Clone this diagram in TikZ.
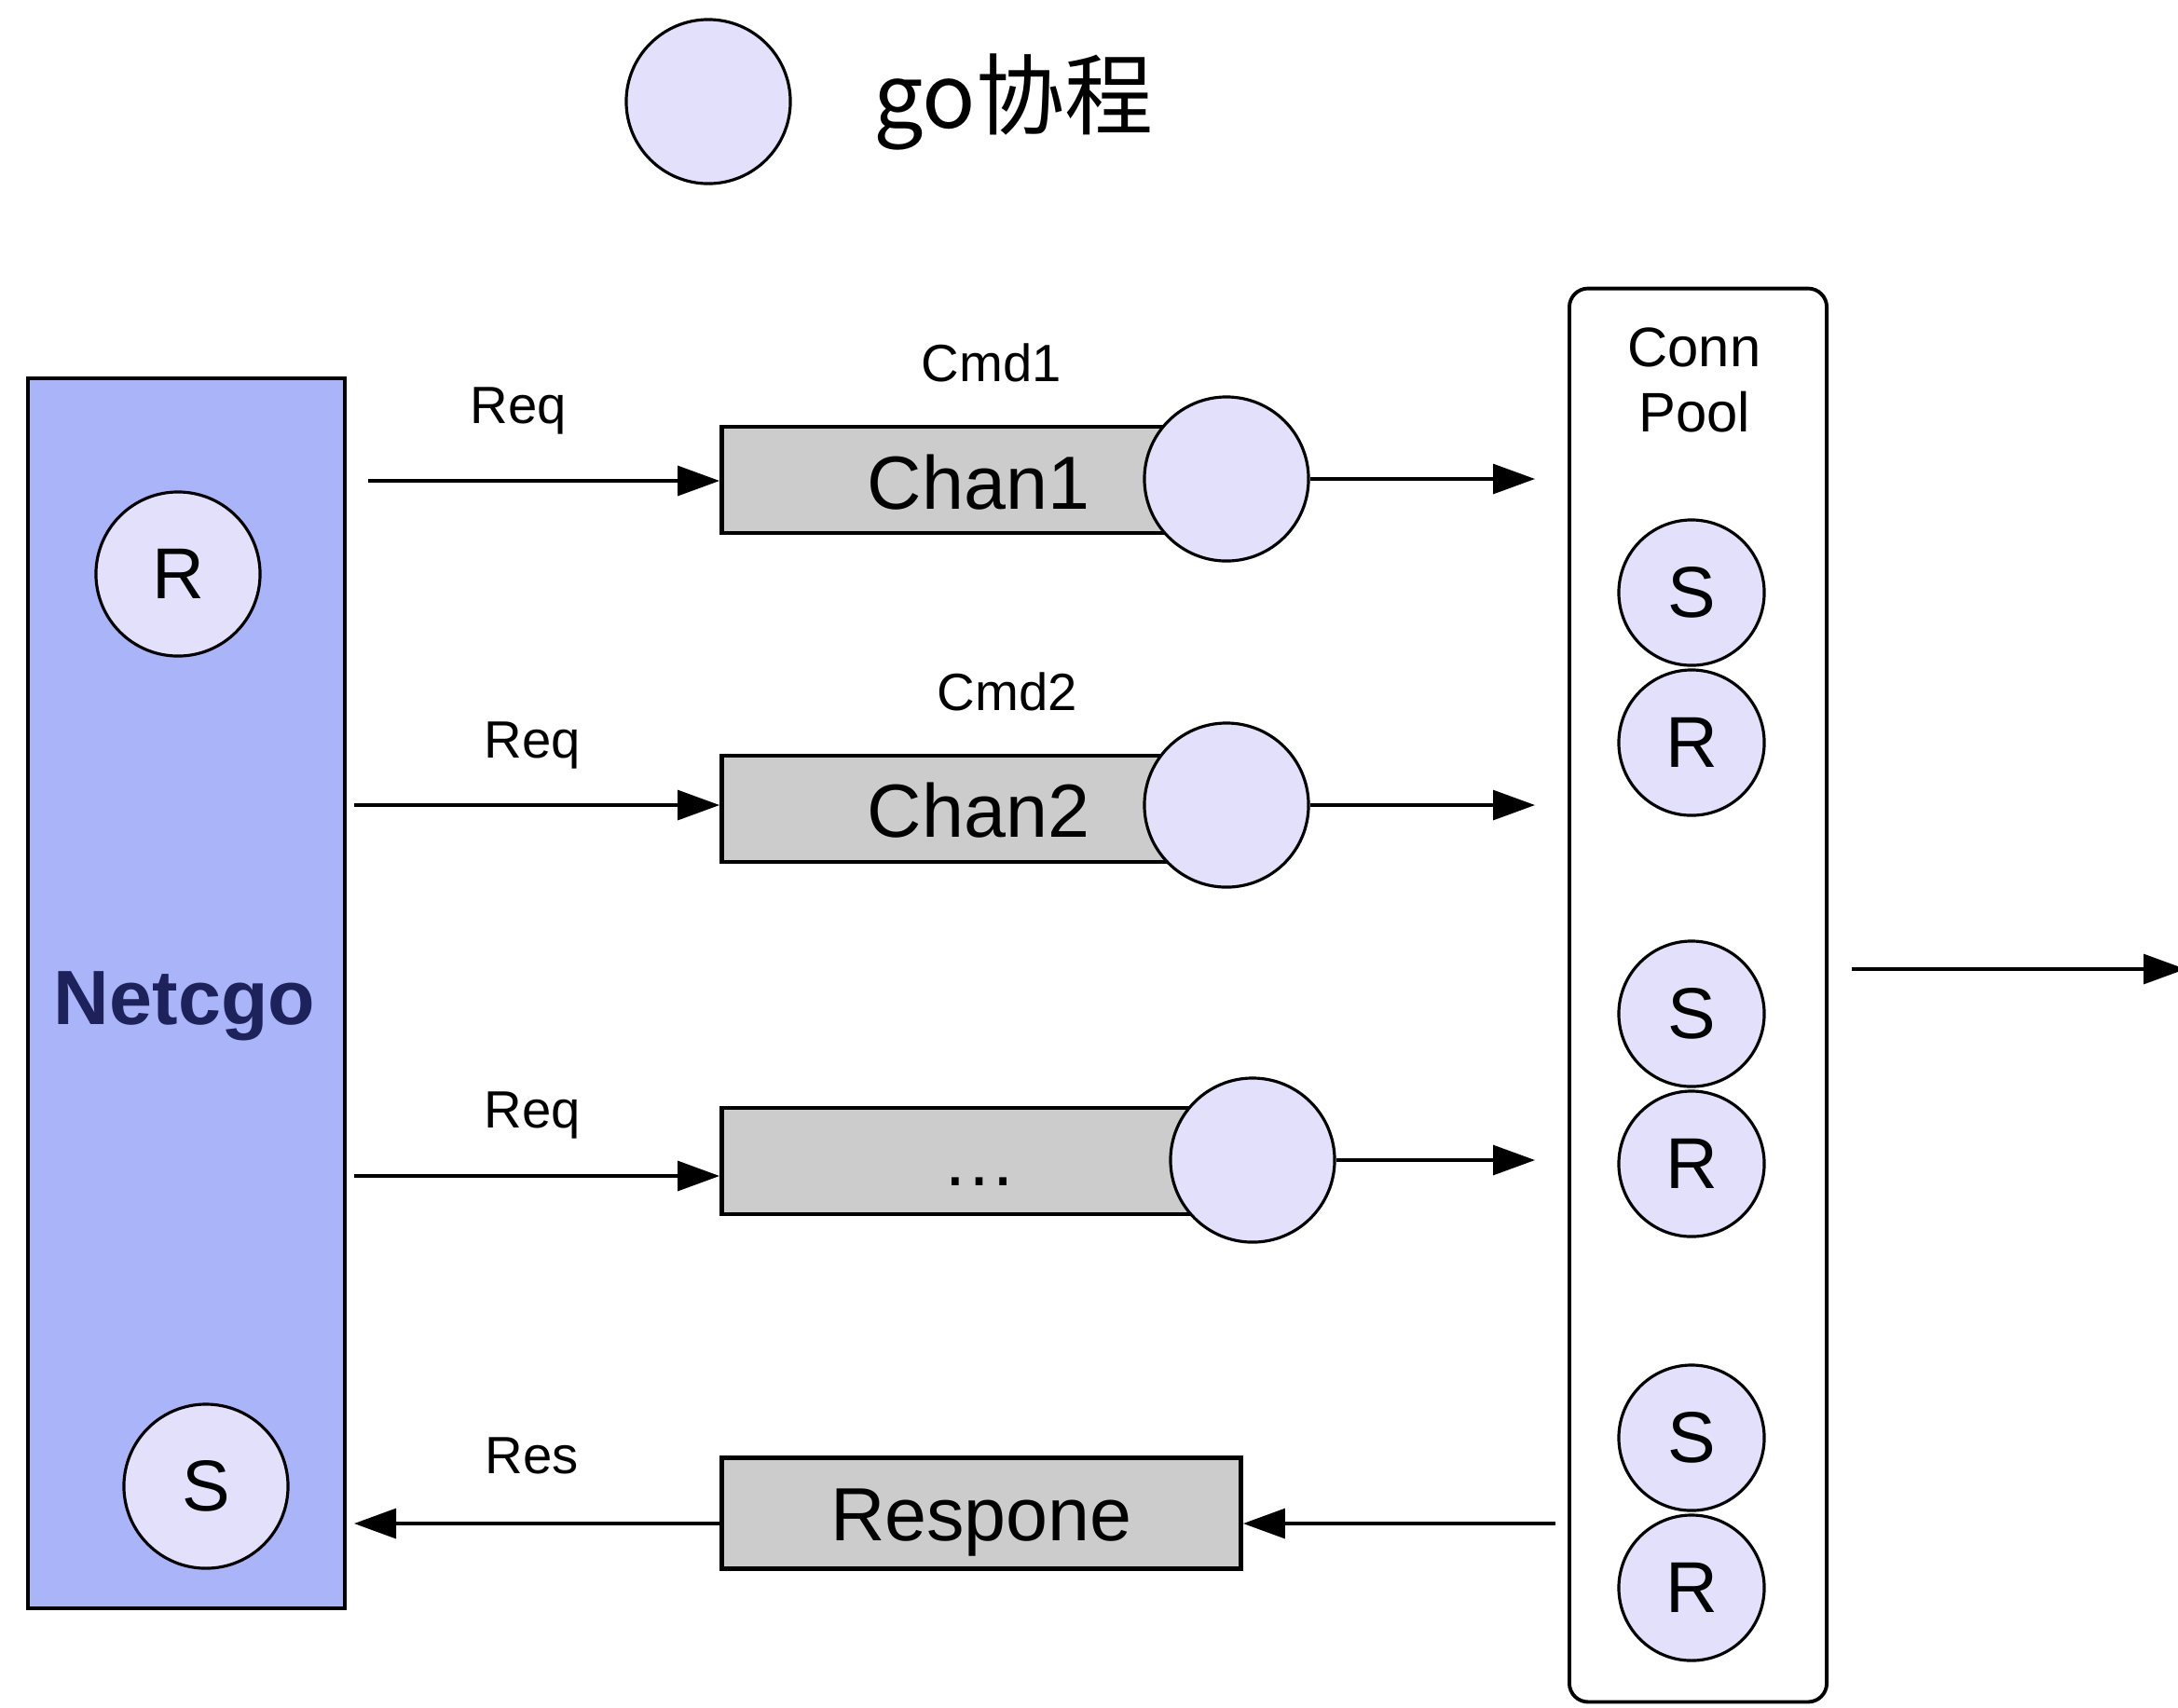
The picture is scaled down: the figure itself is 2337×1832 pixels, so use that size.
\documentclass[tikz,border=0pt]{standalone}
\usepackage{fontspec}
\setmainfont{Liberation Sans}
\newfontfamily\cjk{Noto Sans CJK SC}
\usetikzlibrary{arrows.meta}
\definecolor{gofill}{RGB}{226,224,250}
\definecolor{netfill}{RGB}{170,180,248}
\definecolor{chanfill}{RGB}{204,204,204}
\definecolor{nettext}{RGB}{30,34,90}

\begin{document}
\begin{tikzpicture}[x=0.01cm, y=-0.01cm,
  gor/.style={circle, draw, line width=0.9pt, fill=gofill, minimum size=1.76cm, inner sep=0pt},
  sr/.style={circle, draw, line width=0.9pt, fill=gofill, minimum size=1.56cm, inner sep=0pt, font=\fontsize{22}{24}\selectfont},
  chan/.style={draw, line width=1.3pt, fill=chanfill, minimum height=1.14cm, inner sep=0pt},
  chantext/.style={font=\fontsize{23}{26}\selectfont},
  lbl/.style={font=\fontsize{16}{18}\selectfont},
  arr/.style={-{Triangle[length=0.45cm,width=0.32cm]}, line width=0.9pt}]
\useasboundingbox [fill=white] (0,0) rectangle (2337,1832);
% legend
\node [gor] (leg) at (760,109) {};
\node [right, font=\cjk\fontsize{27}{30}\selectfont] (legtext) at (925,109) {go协程};
% Netcgo side
\node [draw, line width=1.3pt, fill=netfill, minimum width=3.40cm, minimum height=13.19cm] (netcgo) at (200,1066) {};
\node [font=\bfseries\fontsize{23.5}{26}\selectfont, text=nettext] (nettitle) at (198,1080) {Netcgo};
\node [sr, minimum size=1.76cm] (nr) at (191,616) {R};
\node [sr, minimum size=1.76cm] (ns) at (221,1595) {S};
% channels
\node [chan, minimum width=5.25cm] (chan1) at (1037,515) {};
\node [chantext] (chan1text) at (1050,518) {Chan1};
\node [gor] (g1) at (1316,514) {};
\node [lbl] (cmd1) at (1064,389) {Cmd1};
\node [chan, minimum width=5.25cm] (chan2) at (1037,868) {};
\node [chantext] (chan2text) at (1050,870) {Chan2};
\node [gor] (g2) at (1316,864) {};
\node [lbl] (cmd2) at (1081,742) {Cmd2};
\node [chan, minimum width=5.45cm] (chan3) at (1047,1246) {};
\node [chantext] (chan3text) at (1051,1268) {\ldots};
\node [gor] (g3) at (1344,1245) {};
\node [chan, minimum width=5.57cm, minimum height=1.19cm] (resp) at (1053,1624) {};
\node [chantext] (resptext) at (1053,1634) {Respone};
% conn pool
\node [draw, rounded corners=0.2cm, line width=1.1pt, minimum width=2.76cm, minimum height=15.16cm] (pool) at (1822,1068) {};
\node [align=center, font=\fontsize{17}{20}\selectfont] (pooltext) at (1818,408) {Conn\\Pool};
\foreach \y/\n in {636/1, 1088/2, 1543/3} {
  \node [sr] (s\n) at (1815,\y) {S};
  \node [sr] (r\n) at (1815,\y+161) {R};
}
% requests
\coordinate (q1) at (395,516);
\coordinate (q2) at (380,864);
\coordinate (q3) at (380,1262);
\draw [arr] (q1) -- (q1 -| chan1.west);
\draw [arr] (q2) -- (q2 -| chan2.west);
\draw [arr] (q3) -- (q3 -| chan3.west);
\node [lbl] (req1) at (556,441) {Req};
\node [lbl] (req2) at (571,800) {Req};
\node [lbl] (req3) at (571,1197) {Req};
% to the pool
\coordinate (p1) at (1647,514);
\coordinate (p2) at (1647,864);
\coordinate (p3) at (1647,1245);
\draw [arr] (g1) -- (p1);
\draw [arr] (g2) -- (p2);
\draw [arr] (g3) -- (p3);
\coordinate (o1) at (1987,1040);
\coordinate (o2) at (2345,1040);
\draw [arr] (o1) -- (o2);
% response
\coordinate (p4) at (1669,1635);
\coordinate (n4) at (380,1635);
\draw [arr] (p4) -- (p4 -| resp.east);
\draw [arr] (resp.west |- n4) -- (n4);
\node [lbl] (res) at (571,1562) {Res};
\end{tikzpicture}
\end{document}
